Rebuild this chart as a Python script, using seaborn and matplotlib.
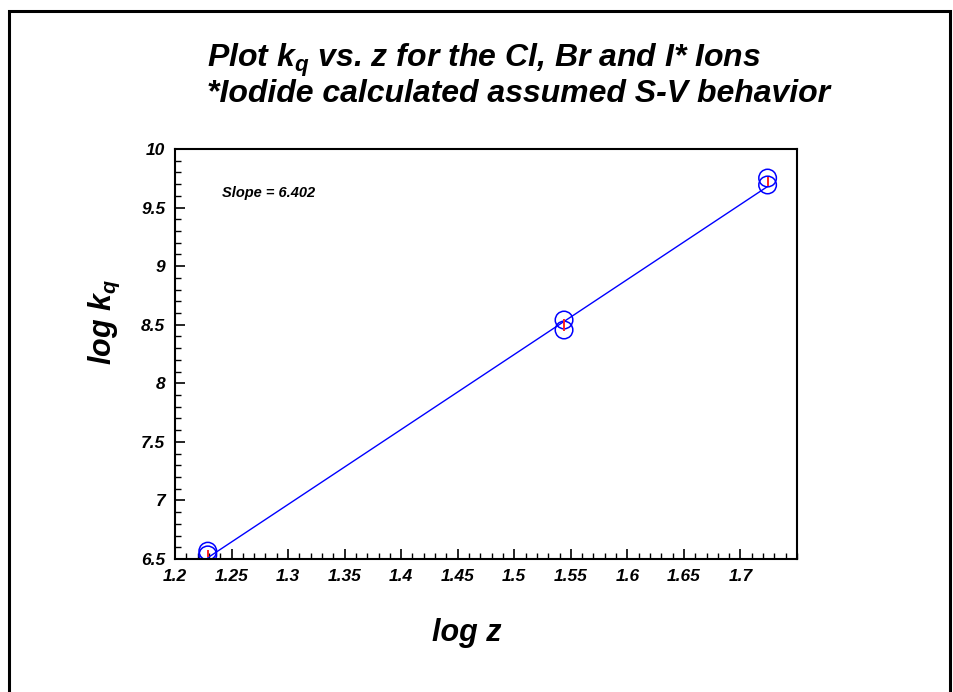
import numpy as np
import pandas as pd
import matplotlib
matplotlib.use("Agg")
import matplotlib.pyplot as plt
import seaborn as sns
from matplotlib.patches import Rectangle
from matplotlib.ticker import MultipleLocator

# Data
log_z = [1.229, 1.229, 1.544, 1.544, 1.724, 1.724]
log_kq = [6.567, 6.535, 8.540, 8.455, 9.752, 9.693]
err_x = [1.229, 1.544, 1.724]
err_y = [6.551, 8.497, 9.722]
err_h = [0.03, 0.05, 0.035]
fit_x = [1.229, 1.724]
slope = 6.402
intercept = -1.357
fit_y = [slope * v + intercept for v in fit_x]

sns.set_theme(style="white")
plt.rcParams['font.family'] = ['Liberation Sans', 'DejaVu Sans']
plt.rcParams['text.color'] = 'black'
plt.rcParams['xtick.color'] = 'black'
plt.rcParams['ytick.color'] = 'black'
plt.rcParams['axes.labelcolor'] = 'black'
plt.rcParams['mathtext.fontset'] = 'custom'
plt.rcParams['mathtext.rm'] = 'Liberation Sans:bold:italic'
plt.rcParams['mathtext.it'] = 'Liberation Sans:bold:italic'
plt.rcParams['mathtext.bf'] = 'Liberation Sans:bold:italic'

fig = plt.figure(figsize=(9.54, 6.92), dpi=100)
fig.patch.set_facecolor('white')
ax = fig.add_axes([175/954, 1-559/692, (797-175)/954, (559-149)/692])

df = pd.DataFrame({'x': log_z, 'y': log_kq})
fit_df = pd.DataFrame({'x': fit_x, 'y': fit_y})
sns.lineplot(data=fit_df, x='x', y='y', ax=ax, color='#0000ff', lw=1.0)
sns.scatterplot(data=df, x='x', y='y', ax=ax, marker='o', s=160,
                facecolors='none', edgecolor='#0000ff', linewidth=1.1)
ax.errorbar(err_x, err_y, yerr=err_h, fmt='none', ecolor='#ff2020', elinewidth=1.4,
            capsize=0, zorder=6)

ax.set_xlim(1.2, 1.75)
ax.set_ylim(6.5, 10)
ax.xaxis.set_minor_locator(MultipleLocator(0.01))
ax.yaxis.set_minor_locator(MultipleLocator(0.1))
ax.set_xticks([1.2, 1.25, 1.3, 1.35, 1.4, 1.45, 1.5, 1.55, 1.6, 1.65, 1.7])
ax.set_xticklabels(['1.2', '1.25', '1.3', '1.35', '1.4', '1.45', '1.5', '1.55', '1.6', '1.65', '1.7'])
ax.set_yticks([6.5, 7, 7.5, 8, 8.5, 9, 9.5, 10])
ax.set_yticklabels(['6.5', '7', '7.5', '8', '8.5', '9', '9.5', '10'])
ax.tick_params(which='both', direction='in', color='black', bottom=True, left=True,
               top=False, right=False)
ax.tick_params(which='major', length=7, width=1.2, labelsize=12.5, pad=7)
ax.tick_params(which='minor', length=4, width=1.0)
for lab in ax.get_xticklabels() + ax.get_yticklabels():
    lab.set_fontweight('bold')
    lab.set_fontstyle('italic')
for sp in ax.spines.values():
    sp.set_color('black')
    sp.set_linewidth(1.5)

ax.set_xlabel('')
ax.set_ylabel('')
fig.text(467/954, 1-633/692, 'log z', fontsize=22, fontweight='bold', fontstyle='italic',
         ha='center', va='center')
fig.text(104/954, 1-322/692, r'log $k_q$', fontsize=22, fontweight='bold', fontstyle='italic',
         ha='center', va='center', rotation=90)
ax.text(222/954, 1-193/692, 'Slope = 6.402', transform=fig.transFigure, fontsize=10.5,
        fontweight='bold', fontstyle='italic', ha='left', va='center')

fig.text(207/954, 1-60/692, r'Plot $k_q$ vs. z for the Cl, Br and I* Ions', fontsize=23,
         fontweight='bold', fontstyle='italic', ha='left', va='center')
fig.text(207/954, 1-94/692, '*Iodide calculated assumed S-V behavior', fontsize=23,
         fontweight='bold', fontstyle='italic', ha='left', va='center')

fig.patches.append(Rectangle((9/954, -0.05), (950-9)/954, 1.05 - 11/692, transform=fig.transFigure,
                             fill=False, edgecolor='black', linewidth=2.2, figure=fig))

fig.savefig('out.png', dpi=100)
